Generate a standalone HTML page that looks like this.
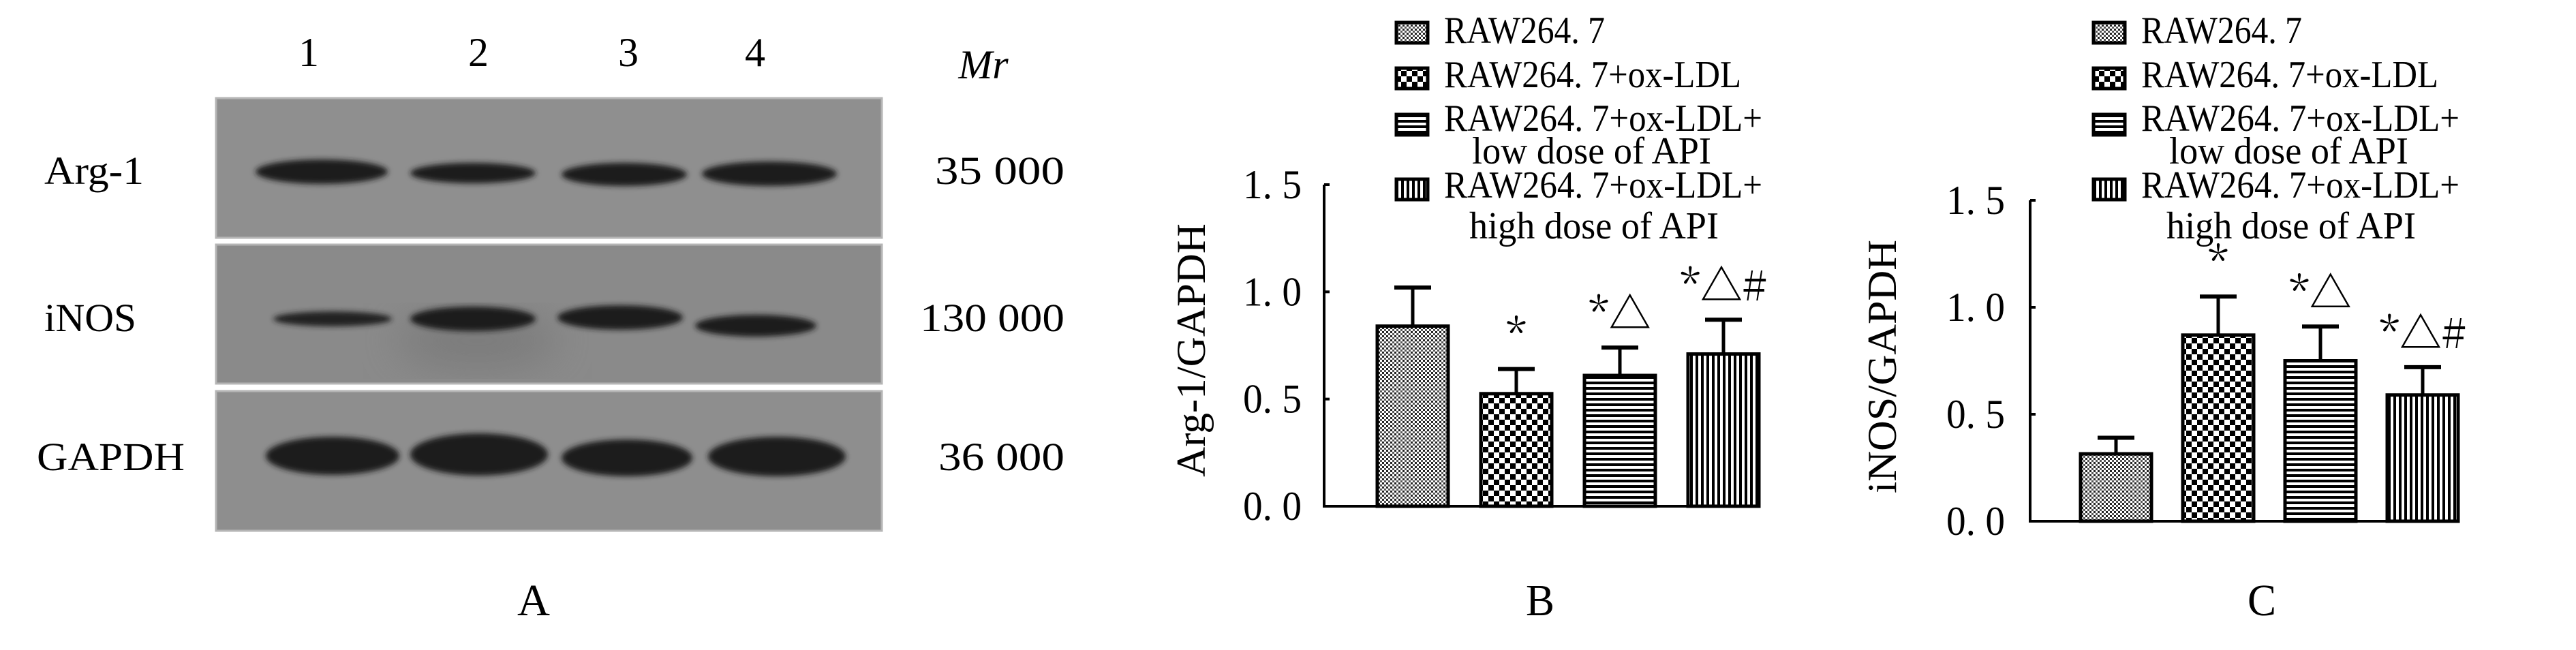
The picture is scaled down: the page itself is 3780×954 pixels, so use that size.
<!DOCTYPE html>
<html><head><meta charset="utf-8"><style>
html,body{margin:0;padding:0;background:#fff;}
svg{display:block;}
text{font-family:"Liberation Serif","Noto Serif CJK SC",serif;fill:#000;}
.sig{font-family:"Noto Serif CJK SC","Liberation Serif",serif;}
</style></head><body>
<svg id="fig" width="3780" height="954" viewBox="0 0 3780 954" xmlns="http://www.w3.org/2000/svg">
<defs>
<filter id="blur" x="-20%" y="-50%" width="140%" height="200%"><feGaussianBlur stdDeviation="4"/></filter>
<filter id="blur2" x="-20%" y="-20%" width="140%" height="140%"><feGaussianBlur stdDeviation="30"/></filter>
<pattern id="pDots" width="6" height="6" patternUnits="userSpaceOnUse"><rect width="6" height="6" fill="#fff"/><rect x="0" y="0" width="3" height="3" fill="#222"/><rect x="3" y="3" width="3" height="3" fill="#555"/></pattern>
<pattern id="pCheck" width="16" height="16" patternUnits="userSpaceOnUse"><rect width="16" height="16" fill="#fff"/><rect x="0" y="0" width="8" height="8" fill="#000"/><rect x="8" y="8" width="8" height="8" fill="#000"/></pattern>
<pattern id="pHoriz" width="8" height="8" patternUnits="userSpaceOnUse"><rect width="8" height="8" fill="#fff"/><rect x="0" y="0" width="8" height="4" fill="#000"/></pattern>
<pattern id="pVert" width="8" height="8" patternUnits="userSpaceOnUse"><rect width="8" height="8" fill="#fff"/><rect x="0" y="0" width="4" height="8" fill="#000"/></pattern>
</defs>

<g>
  <text x="453" y="97" font-size="60" text-anchor="middle">1</text>
  <text x="702" y="97" font-size="60" text-anchor="middle">2</text>
  <text x="922" y="97" font-size="60" text-anchor="middle">3</text>
  <text x="1108" y="97" font-size="60" text-anchor="middle">4</text>
  <text x="1443" y="115" font-size="60" font-style="italic" text-anchor="middle">Mr</text>

  <g>
    <rect x="317" y="144" width="977" height="205" fill="#8f8f8f" stroke="#b5b5b5" stroke-width="3"/>
    <ellipse cx="472" cy="252" rx="97" ry="18" fill="#1c1c1c" filter="url(#blur)"/>
    <ellipse cx="694" cy="254" rx="92" ry="15" fill="#1e1e1e" filter="url(#blur)"/>
    <ellipse cx="916" cy="256" rx="92" ry="17" fill="#1c1c1c" filter="url(#blur)"/>
    <ellipse cx="1129" cy="255" rx="99" ry="18" fill="#1c1c1c" filter="url(#blur)"/>
  </g>
  <g>
    <rect x="317" y="359" width="977" height="204" fill="#8a8a8a" stroke="#b5b5b5" stroke-width="3"/>
    <ellipse cx="700" cy="500" rx="120" ry="40" fill="#7a7a7a" filter="url(#blur2)"/>
    <ellipse cx="488" cy="468" rx="87" ry="11" fill="#222" filter="url(#blur)"/>
    <ellipse cx="694" cy="468" rx="92" ry="18" fill="#1c1c1c" filter="url(#blur)"/>
    <ellipse cx="910" cy="466" rx="92" ry="18" fill="#1c1c1c" filter="url(#blur)"/>
    <ellipse cx="1109" cy="478" rx="89" ry="16" fill="#1e1e1e" filter="url(#blur)"/>
  </g>
  <g>
    <rect x="317" y="574" width="977" height="205" fill="#8e8e8e" stroke="#b5b5b5" stroke-width="3"/>
    <ellipse cx="488" cy="669" rx="98" ry="28" fill="#1a1a1a" filter="url(#blur)"/>
    <ellipse cx="703" cy="667" rx="101" ry="31" fill="#1a1a1a" filter="url(#blur)"/>
    <ellipse cx="920" cy="672" rx="96" ry="27" fill="#1a1a1a" filter="url(#blur)"/>
    <ellipse cx="1140" cy="670" rx="101" ry="29" fill="#1a1a1a" filter="url(#blur)"/>
  </g>

  <text x="65" y="270" font-size="58" textLength="146" lengthAdjust="spacingAndGlyphs">Arg-1</text>
  <text x="65" y="486" font-size="58" textLength="135" lengthAdjust="spacingAndGlyphs">iNOS</text>
  <text x="54" y="690" font-size="58" textLength="217" lengthAdjust="spacingAndGlyphs">GAPDH</text>
  <text x="1372" y="270" font-size="58" textLength="190" lengthAdjust="spacingAndGlyphs">35 000</text>
  <text x="1350" y="486" font-size="58" textLength="212" lengthAdjust="spacingAndGlyphs">130 000</text>
  <text x="1377" y="690" font-size="58" textLength="185" lengthAdjust="spacingAndGlyphs">36 000</text>
  <text x="759" y="903" font-size="66" textLength="48" lengthAdjust="spacingAndGlyphs">A</text>
</g>

<g id="chartB"></g>
<g id="chartC"></g>
</svg>
<script>
const categories = ["RAW264. 7", "RAW264. 7+ox-LDL", "RAW264. 7+ox-LDL+ low dose of API", "RAW264. 7+ox-LDL+ high dose of API"];
const tickValues = [0, 0.5, 1.0, 1.5];
const tickLabels = ["0. 0", "0. 5", "1. 0", "1. 5"];
const arg1Values = [0.84, 0.525, 0.61, 0.71];
const arg1Errors = [1.02, 0.64, 0.74, 0.87];
const arg1Sig = ["", "*", "*△", "*△#"];
const inosValues = [0.315, 0.87, 0.75, 0.59];
const inosErrors = [0.39, 1.05, 0.91, 0.72];
const inosSig = ["", "*", "*△", "*△#"];

const NS = "http://www.w3.org/2000/svg";
const fills = ["url(#pDots)", "url(#pCheck)", "url(#pHoriz)", "url(#pVert)"];
function mk(tag, attrs, parent) {
  const e = document.createElementNS(NS, tag);
  for (const k in attrs) e.setAttribute(k, attrs[k]);
  parent.appendChild(e);
  return e;
}
function drawChart(g, cfg, values, errors, sig) {
  const y = v => cfg.y0 - v / 1.5 * (cfg.y0 - cfg.y15);
  const barW = 104, pitch = cfg.pitch;
  const xBar = i => cfg.firstBar + i * pitch;
  const ax = mk("line", {x1: cfg.ax, y1: y(1.5), x2: cfg.ax, y2: cfg.y0 + 2, stroke: "#000", "stroke-width": 4}, g);
  
  
  const bx = mk("line", {x1: cfg.ax - 2, y1: cfg.y0, x2: cfg.axEnd, y2: cfg.y0, stroke: "#000", "stroke-width": 4}, g);
  
  
  tickValues.forEach((v, i) => {
    const t = mk("line", {x1: cfg.ax, y1: y(v), x2: cfg.ax + 8, y2: y(v), stroke: "#000", "stroke-width": 4}, g);
    
    
    const tl = mk("text", {x: cfg.tickRight, y: y(v) + 20, "font-size": 60, "text-anchor": "end", textLength: 86, lengthAdjust: "spacingAndGlyphs"}, g);
    tl.textContent = tickLabels[i];
    
    
  });
  const yt = mk("text", {x: 0, y: 0, "font-size": 60, "text-anchor": "middle", textLength: 372, lengthAdjust: "spacingAndGlyphs", transform: `translate(${cfg.titleX},${cfg.titleY}) rotate(-90)`}, g);
  yt.textContent = cfg.title;
  
  
  values.forEach((v, i) => {
    const x = xBar(i);
    const b = mk("rect", {x: x, y: y(v), width: barW, height: cfg.y0 - y(v), fill: fills[i], stroke: "#000", "stroke-width": 5}, g);
    
    
    const cx = x + barW / 2;
    const e1 = mk("line", {x1: cx, y1: y(v), x2: cx, y2: y(errors[i]), stroke: "#000", "stroke-width": 5}, g);
    
    
    const e2 = mk("line", {x1: cx - 27, y1: y(errors[i]), x2: cx + 27, y2: y(errors[i]), stroke: "#000", "stroke-width": 6}, g);
    
    
    if (sig[i]) {
      const s = mk("text", {x: cx, y: y(errors[i]) - 28, "font-size": 62, "text-anchor": "middle", "class": "sig"}, g);
      s.textContent = sig[i];
      
      
    }
  });
  const rows = [
    {box: 30, lines: [[categories[0], 63, 0]]},
    {box: 97, lines: [["RAW264. 7+ox-LDL", 128, 0]]},
    {box: 165, lines: [["RAW264. 7+ox-LDL+", 192, 0], ["low dose of API", 240, 1]]},
    {box: 260, lines: [["RAW264. 7+ox-LDL+", 290, 0], ["high dose of API", 350, 2]]}
  ];
  rows.forEach((r, i) => {
    const bb = mk("rect", {x: cfg.legX, y: r.box + 3, width: 46, height: 30, fill: fills[i], stroke: "#000", "stroke-width": 5}, g);
    
    
    r.lines.forEach(l => {
      const widths = {"RAW264. 7": 236, "RAW264. 7+ox-LDL": 436, "RAW264. 7+ox-LDL+": 467, "low dose of API": 351, "high dose of API": 366};
      const xoff = l[2] === 1 ? 41 : l[2] === 2 ? 37 : 0;
      const t = mk("text", {x: cfg.legX + 70 + xoff, y: l[1], "font-size": 56, textLength: widths[l[0]], lengthAdjust: "spacingAndGlyphs"}, g);
      t.textContent = l[0];
      
      
    });
  });
  const pl = mk("text", {x: cfg.panelX, y: 903, "font-size": 66, textLength: 42, lengthAdjust: "spacingAndGlyphs"}, g);
  pl.textContent = cfg.panel;
  
  
}
drawChart(document.getElementById("chartB"),
  {ax: 1943, y0: 743, y15: 271, firstBar: 2021, pitch: 152, axEnd: 2582, tickRight: 1910, titleX: 1768, titleY: 514, title: "Arg-1/GAPDH", legX: 2049, panelX: 2239, panel: "B"},
  arg1Values, arg1Errors, arg1Sig);
drawChart(document.getElementById("chartC"),
  {ax: 2979, y0: 765, y15: 294, firstBar: 3053, pitch: 150, axEnd: 3607, tickRight: 2942, titleX: 2782, titleY: 538, title: "iNOS/GAPDH", legX: 3072, panelX: 3298, panel: "C"},
  inosValues, inosErrors, inosSig);
</script>
</body></html>
